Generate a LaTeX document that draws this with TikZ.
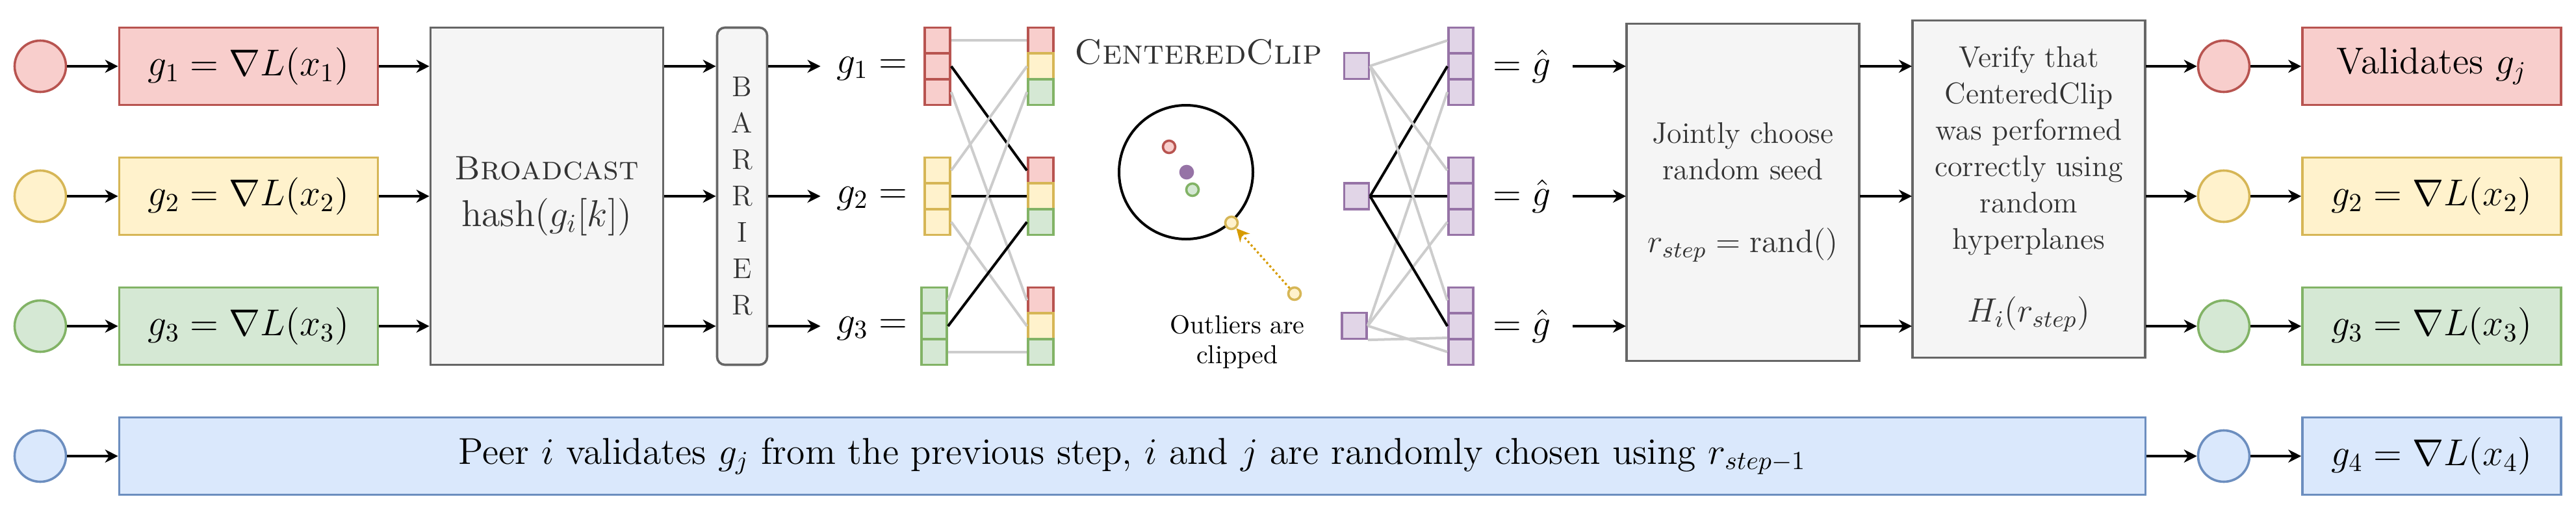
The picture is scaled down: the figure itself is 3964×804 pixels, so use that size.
\RequirePackage{fix-cm}
\documentclass[tikz,border=0pt]{standalone}
\usepackage{fontspec}
\usetikzlibrary{arrows.meta}
\definecolor{rfill}{HTML}{F8CECC}\definecolor{rdraw}{HTML}{B85450}
\definecolor{yfill}{HTML}{FFF2CC}\definecolor{ydraw}{HTML}{D6B656}
\definecolor{gfill}{HTML}{D5E8D4}\definecolor{gdraw}{HTML}{82B366}
\definecolor{pfill}{HTML}{E1D5E7}\definecolor{pdraw}{HTML}{9673A6}
\definecolor{bfill}{HTML}{DAE8FC}\definecolor{bdraw}{HTML}{6C8EBF}
\definecolor{kfill}{HTML}{F5F5F5}\definecolor{kdraw}{HTML}{666666}
\definecolor{tgray}{HTML}{333333}
\definecolor{lgray}{HTML}{CCCCCC}
\definecolor{odraw}{HTML}{D79B00}
\def\u{0.25pt}
\tikzset{
  cred/.style={fill=rfill,draw=rdraw},
  cyel/.style={fill=yfill,draw=ydraw},
  cgrn/.style={fill=gfill,draw=gdraw},
  cpur/.style={fill=pfill,draw=pdraw},
  cblu/.style={fill=bfill,draw=bdraw},
  box/.style={draw,line width=0.9pt,inner sep=0pt,minimum width=398*\u,minimum height=119*\u,font=\fontsize{14.4}{17}\selectfont},
  gbox/.style={draw=kdraw,fill=kfill,line width=0.9pt,inner sep=0pt,minimum width=358*\u,minimum height=519*\u,text=tgray},
  circ/.style={circle,draw,line width=0.9pt,minimum size=79*\u,inner sep=0pt},
  cell/.style={draw,line width=0.9pt,inner sep=0pt,minimum width=39*\u,minimum height=39.67*\u},
  pcell/.style={cell,cpur,minimum width=38*\u},
  dot/.style={circle,draw,line width=0.9pt,minimum size=19*\u,inner sep=0pt},
  arr/.style={line width=1pt,-{Stealth[length=5pt,width=5pt,inset=1.6pt]}},
  gl/.style={draw=lgray,line width=1pt},
  bl/.style={draw=black,line width=1pt},
  lab/.style={inner sep=0pt,font=\fontsize{14.4}{17}\selectfont},
}
\begin{document}
\begin{tikzpicture}[x=0.25pt,y=-0.25pt]
\useasboundingbox (0,0) rectangle (3964,804);
% left circles and gradient boxes
\node[circ,cred] (c1) at (62,102) {};
\node[circ,cyel] (c2) at (62,302) {};
\node[circ,cgrn] (c3) at (62,502) {};
\node[box,cred] (b1) at (382.5,102) {$g_1 = \nabla L(x_1)$};
\node[box,cyel] (b2) at (382.5,302) {$g_2 = \nabla L(x_2)$};
\node[box,cgrn] (b3) at (382.5,502) {$g_3 = \nabla L(x_3)$};
\foreach \n in {1,2,3} \draw[arr] (c\n) -- (b\n);
% broadcast
\node[gbox,align=center,font=\fontsize{14.4}{18}\selectfont] (bc) at (841.5,302)
  {{\fontsize{13}{18}\selectfont\textsc{Broadcast}}\\$\mathrm{hash}(g_i[k])$};
% barrier
\node[gbox,minimum width=77*\u,rounded corners=3pt,align=center,font=\fontsize{11}{14}\selectfont] (bar) at (1142,302)
  {B\\A\\R\\R\\I\\E\\R};
\foreach \n in {1,2,3} {
  \draw[arr] (b\n.east) -- (b\n.east -| bc.west);
  \draw[arr] (bc.east |- b\n) -- (bar.west |- b\n);
}
% g labels
\foreach \n in {1,2,3}
  \node[lab,anchor=base east] (gl\n) at ({1397},{112+200*(\n-1)}) {$g_\n =$};
\foreach \n in {1,2,3}
  \draw[arr,shorten >=6pt] (bar.east |- b\n) -- (gl\n.west |- b\n);
% colored cells
\foreach \i/\c/\dx in {1/cred/0,2/cyel/0,3/cgrn/-5}
  \foreach \k in {1,2,3}
    \node[cell,\c] (L\i\k) at ({1442.5+\dx},{102+200*(\i-1)+39.67*(\k-2)}) {};
\foreach \i in {1,2,3}
  \foreach \k/\c in {1/cred,2/cyel,3/cgrn}
    \node[cell,\c] (R\i\k) at (1601.5,{102+200*(\i-1)+39.67*(\k-2)}) {};
\foreach \i in {1,2,3}
  \foreach \k in {1,2,3} {
    \ifnum\k=2 \draw[bl] (L\i\k.east) -- (R\k\i.west);
    \else \draw[gl] (L\i\k.east) -- (R\k\i.west); \fi
  }
% CenteredClip
\node[text=tgray,inner sep=0pt,font=\fontsize{13.5}{16}\selectfont] (cct) at (1844,80) {\textsc{CenteredClip}};
\node[circle,draw,line width=1pt,minimum size=206*\u,inner sep=0pt] (cc) at (1825,265) {};
\node[dot,cred] (d1) at (1799,226) {};
\node[dot,fill=pdraw,draw=pdraw] (d2) at (1826,265) {};
\node[dot,cgrn] (d3) at (1835,292) {};
\node[dot,cyel] (o1) at (1895,343) {};
\node[dot,cyel] (o2) at (1992,452) {};
\draw[draw=odraw,line width=0.8pt,dash pattern=on 0.8pt off 1pt,
  -{Stealth[length=5pt,width=5pt,inset=1.6pt,fill=odraw,sep=0pt]}] (o2) -- (o1);
\node[align=center,inner sep=0pt,font=\fontsize{10}{11.5}\selectfont] (otx) at (1904,526) {Outliers are\\clipped};
% purple cells
\node[pcell] (PL1) at (2087.5,101.5) {};
\node[pcell] (PL2) at (2087.5,302) {};
\node[pcell] (PL3) at (2084,501.5) {};
\foreach \i in {1,2,3}
  \foreach \k in {1,2,3}
    \node[pcell] (PR\i\k) at (2248,{102+200*(\i-1)+39.67*(\k-2)}) {};
\foreach \i in {1,2,3}
  \foreach \k in {1,2,3} {
    \ifnum\k=2 \draw[bl] (PL\k.east) -- (PR\i\k.west);
    \else \draw[gl] (PL\k.east) -- (PR\i\k.west); \fi
  }
\draw[gl] (PL3.south east) -- (PR33.north west);
\foreach \n in {1,2,3}
  \node[lab,anchor=base west] (h\n) at (2297,{116+200*(\n-1)}) {$=\hat{g}$};
% jointly / verify
\node[gbox,align=center,font=\fontsize{11.5}{14}\selectfont] (jt) at (2682,296)
  {Jointly choose\\random seed\\[14pt]{\fontsize{12.5}{14}\selectfont$r_{step} = \mathrm{rand}()$}};
\node[gbox,align=center,font=\fontsize{11.5}{14}\selectfont] (vf) at (3122,291)
  {Verify that\\CenteredClip\\was performed\\correctly using\\random\\hyperplanes\\[14pt]{\fontsize{13}{14}\selectfont$H_i(r_{step})$}};
\foreach \n in {1,2,3} {
  \draw[arr,shorten <=8pt] (h\n.east |- b\n) -- (2502,{102+200*(\n-1)});
  \draw[arr] (2862,{102+200*(\n-1)}) -- (2942,{102+200*(\n-1)});
}
% right side
\node[circ,cred] (rc1) at (3422,102) {};
\node[circ,cyel] (rc2) at (3422,302) {};
\node[circ,cgrn] (rc3) at (3422,502) {};
\node[box,cred] (rb1) at (3742,102) {Validates $g_j$};
\node[box,cyel] (rb2) at (3742,302) {$g_2 = \nabla L(x_2)$};
\node[box,cgrn] (rb3) at (3742,502) {$g_3 = \nabla L(x_3)$};
\foreach \n in {1,2,3} {
  \draw[arr] (3302,{102+200*(\n-1)}) -- (rc\n);
  \draw[arr] (rc\n) -- (rb\n);
}
% bottom row
\node[circ,cblu] (c4) at (62,702) {};
\node[box,cblu,minimum width=3118*\u] (bb) at (1742.5,702)
  {Peer $i$ validates $g_j$ from the previous step, $i$ and $j$ are randomly chosen using $r_{step-1}$};
\node[circ,cblu] (c5) at (3422,702) {};
\node[box,cblu] (rb4) at (3742,702) {$g_4 = \nabla L(x_4)$};
\draw[arr] (c4) -- (bb);
\draw[arr] (bb.east |- c5) -- (c5);
\draw[arr] (c5) -- (rb4);
\end{tikzpicture}
\end{document}
